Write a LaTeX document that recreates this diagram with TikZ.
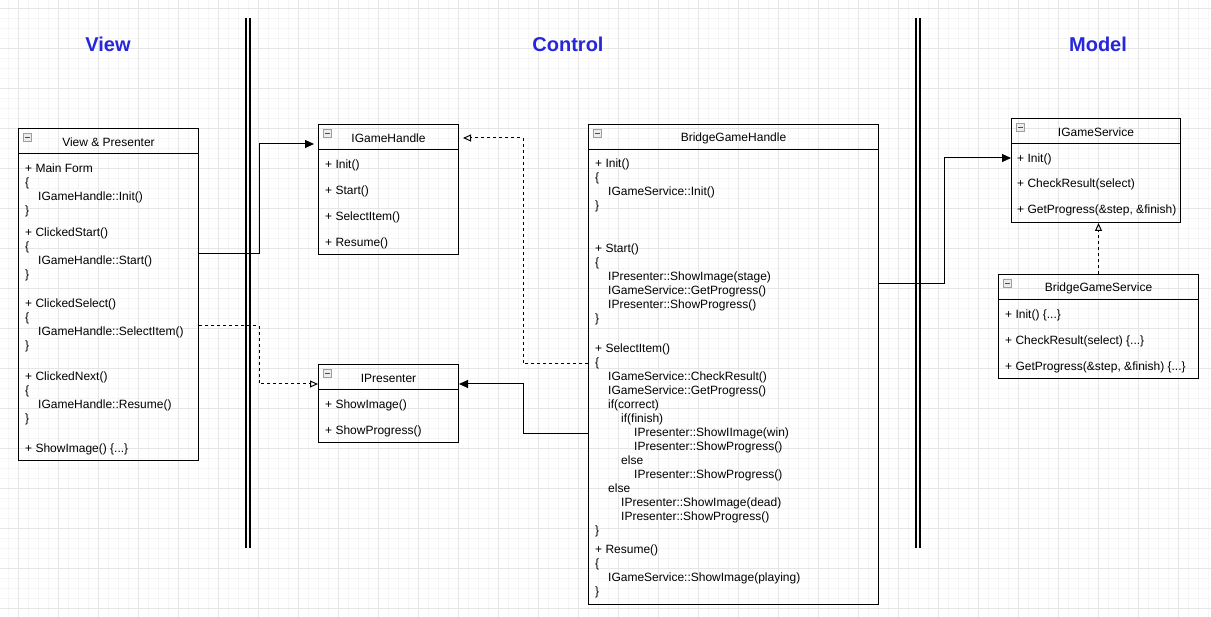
\documentclass[tikz,border=0pt]{standalone}
\usepackage{fontspec}
\setmainfont{Liberation Sans}
\usetikzlibrary{arrows.meta,calc}
\definecolor{lanetext}{RGB}{38,38,220}
\definecolor{gridminor}{RGB}{245,245,245}
\definecolor{gridmajor}{RGB}{230,230,230}
\tikzset{
	umlbox/.style={draw, line width=1pt, anchor=north west, inner sep=0pt},
	clstitle/.style={font=\fontsize{12pt}{14pt}\selectfont, inner sep=0pt},
	member/.style={font=\fontsize{12pt}{14pt}\selectfont, inner sep=0pt, anchor=base west},
	lanetitle/.style={font=\fontsize{20pt}{24pt}\selectfont\bfseries, text=lanetext, inner sep=0pt},
	laneline/.style={line width=1.1pt},
	foldicon/.style={draw=gray!75, fill=gray!15, line width=0.6pt, minimum size=8pt, inner sep=0pt,
		path picture={\draw[black!70, line width=0.8pt] ([xshift=1.8pt]path picture bounding box.west) -- ([xshift=-1.8pt]path picture bounding box.east);}},
	assoc/.style={draw, line width=1pt, -{Triangle[length=9pt,width=8pt]}},
	realize/.style={draw, line width=1pt, dash pattern=on 3pt off 3pt, -{Triangle[open,length=8pt,width=7pt]}},
}

\begin{document}
\begin{tikzpicture}[x=1pt,y=-1pt]
	\useasboundingbox (0,0) rectangle (1211,617);
	\fill[white] (0,0) rectangle (1211,617);
	% grid
	\foreach \x in {8,18,...,1208} \draw[gridminor, line width=0.6pt] (\x,0) -- (\x,617);
	\foreach \y in {8,18,...,608} \draw[gridminor, line width=0.6pt] (0,\y) -- (1211,\y);
	\foreach \x in {18,58,...,1178} \draw[gridmajor, line width=0.7pt] (\x,0) -- (\x,617);
	\foreach \y in {8,48,...,608} \draw[gridmajor, line width=0.7pt] (0,\y) -- (1211,\y);

	% lanes
	\draw[laneline] (246,18) -- (246,548);
	\draw[laneline] (250,18) -- (250,548);
	\draw[laneline] (916,18) -- (916,548);
	\draw[laneline] (920,18) -- (920,548);
	\node[lanetitle] (view-t) at (108,44) {View};
	\node[lanetitle] (control-t) at (568,44) {Control};
	\node[lanetitle] (model-t) at (1098,44) {Model};

	% View & Presenter
	\node[umlbox, minimum width=180pt, minimum height=332pt] (vp) at (18,128) {};
	\draw[line width=1pt] ([yshift=-26pt]vp.north west) -- ([yshift=-26pt]vp.north east);
	\node[foldicon] (vp-i) at ([xshift=9.5pt,yshift=-9.5pt]vp.north west) {};
	\node[clstitle] (vp-t) at ([yshift=-14.5pt]vp.north) {View \& Presenter};
	\foreach \yy/\lv/\txt [count=\i] in {168/0/{+ Main Form}, 182/0/\{, 196/1/{IGameHandle::Init()}, 210/0/\},
		232/0/{+ ClickedStart()}, 246/0/\{, 260/1/{IGameHandle::Start()}, 274/0/\},
		303/0/{+ ClickedSelect()}, 317/0/\{, 331/1/{IGameHandle::SelectItem()}, 345/0/\},
		376/0/{+ ClickedNext()}, 390/0/\{, 404/1/{IGameHandle::Resume()}, 418/0/\},
		448/0/{+ ShowImage() \{...\}}}
		\node[member] (vp-m\i) at (25+13*\lv,\yy+5) {\txt};

	% IGameHandle
	\node[umlbox, minimum width=140pt, minimum height=130pt] (igh) at (318,124) {};
	\draw[line width=1pt] ([yshift=-26pt]igh.north west) -- ([yshift=-26pt]igh.north east);
	\node[foldicon] (igh-i) at ([xshift=9.5pt,yshift=-9.5pt]igh.north west) {};
	\node[clstitle] (igh-t) at ([yshift=-14.5pt]igh.north) {IGameHandle};
	\foreach \yy/\txt [count=\i] in {164/{+ Init()}, 190/{+ Start()}, 216/{+ SelectItem()}, 242/{+ Resume()}}
		\node[member] (igh-m\i) at (325,\yy+5) {\txt};

	% IPresenter
	\node[umlbox, minimum width=140pt, minimum height=78pt] (ip) at (318,364) {};
	\draw[line width=1pt] ([yshift=-26pt]ip.north west) -- ([yshift=-26pt]ip.north east);
	\node[foldicon] (ip-i) at ([xshift=9.5pt,yshift=-9.5pt]ip.north west) {};
	\node[clstitle] (ip-t) at ([yshift=-14.5pt]ip.north) {IPresenter};
	\foreach \yy/\txt [count=\i] in {404/{+ ShowImage()}, 430/{+ ShowProgress()}}
		\node[member] (ip-m\i) at (325,\yy+5) {\txt};

	% BridgeGameHandle
	\node[umlbox, minimum width=290pt, minimum height=480pt] (bgh) at (588,124) {};
	\draw[line width=1pt] ([yshift=-26pt]bgh.north west) -- ([yshift=-26pt]bgh.north east);
	\node[foldicon] (bgh-i) at ([xshift=9.5pt,yshift=-9.5pt]bgh.north west) {};
	\node[clstitle] (bgh-t) at ([yshift=-14.5pt]bgh.north) {BridgeGameHandle};
	\foreach \yy/\lv/\txt [count=\i] in {163/0/{+ Init()}, 177/0/\{, 191/1/{IGameService::Init()}, 205/0/\},
		248/0/{+ Start()}, 262/0/\{, 276/1/{IPresenter::ShowImage(stage)}, 290/1/{IGameService::GetProgress()},
		304/1/{IPresenter::ShowProgress()}, 318/0/\},
		348/0/{+ SelectItem()}, 362/0/\{, 376/1/{IGameService::CheckResult()}, 390/1/{IGameService::GetProgress()},
		404/1/{if(correct)}, 418/2/{if(finish)}, 432/3/{IPresenter::ShowIImage(win)}, 446/3/{IPresenter::ShowProgress()},
		460/2/{else}, 474/3/{IPresenter::ShowProgress()}, 488/1/{else}, 502/2/{IPresenter::ShowImage(dead)},
		516/2/{IPresenter::ShowProgress()}, 530/0/\},
		548/0/{+ Resume()}, 562/0/\{, 576/1/{IGameService::ShowImage(playing)}, 590/0/\}}
		\node[member] (bgh-m\i) at (595+13*\lv,\yy+5) {\txt};

	% IGameService
	\node[umlbox, minimum width=169pt, minimum height=104pt] (igs) at (1011,118) {};
	\draw[line width=1pt] ([yshift=-26pt]igs.north west) -- ([yshift=-26pt]igs.north east);
	\node[foldicon] (igs-i) at ([xshift=9.5pt,yshift=-9.5pt]igs.north west) {};
	\node[clstitle] (igs-t) at ([yshift=-14.5pt]igs.north) {IGameService};
	\foreach \yy/\txt [count=\i] in {158/{+ Init()}, 183/{+ CheckResult(select)}, 209/{+ GetProgress(\&step, \&finish)}}
		\node[member] (igs-m\i) at (1017,\yy+5) {\txt};

	% BridgeGameService
	\node[umlbox, minimum width=200pt, minimum height=104pt] (bgs) at (998,274) {};
	\draw[line width=1pt] ([yshift=-26pt]bgs.north west) -- ([yshift=-26pt]bgs.north east);
	\node[foldicon] (bgs-i) at ([xshift=9.5pt,yshift=-9.5pt]bgs.north west) {};
	\node[clstitle] (bgs-t) at ([yshift=-14pt]bgs.north) {BridgeGameService};
	\foreach \yy/\txt [count=\i] in {314/{+ Init() \{...\}}, 340/{+ CheckResult(select) \{...\}}, 366/{+ GetProgress(\&step, \&finish) \{...\}}}
		\node[member] (bgs-m\i) at (1005,\yy+5) {\txt};

	% connectors
	\coordinate (k1) at (259,144);
	\draw[assoc, shorten >=4pt] (vp.east |- 0,254) -| (k1) -- (igh.west |- k1);
	\coordinate (k2) at (259,384);
	\draw[realize] (vp.east |- 0,326) -| (k2) -- (ip.west |- k2);
	\coordinate (k3) at (523,138);
	\draw[realize, shorten >=4pt] (bgh.west |- 0,364) -| (k3) -- (igh.east |- k3);
	\coordinate (k4) at (523,384);
	\draw[assoc] (bgh.west |- 0,434) -| (k4) -- (ip.east |- k4);
	\coordinate (k5) at (944,158);
	\draw[assoc] (bgh.east |- 0,284) -| (k5) -- (igs.west |- k5);
	\draw[realize] (bgs.north) -- (bgs.north |- igs.south);
\end{tikzpicture}
\end{document}
